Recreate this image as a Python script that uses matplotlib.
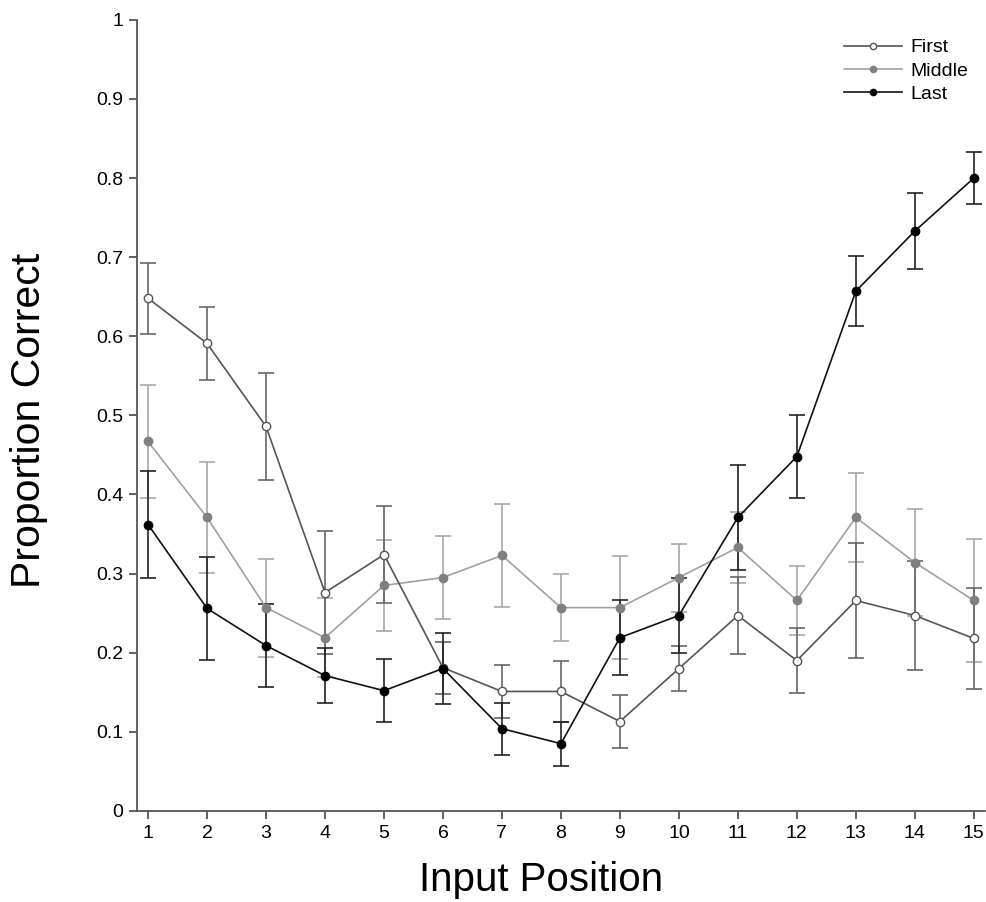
import matplotlib
matplotlib.use("Agg")
import matplotlib.pyplot as plt
from matplotlib.lines import Line2D

plt.rcParams['font.family'] = ['Liberation Sans', 'DejaVu Sans']

positions = list(range(1, 16))

first = [0.648, 0.591, 0.486, 0.276, 0.324, 0.181, 0.151, 0.151, 0.113, 0.180, 0.247, 0.190, 0.266, 0.247, 0.218]
first_err = [0.045, 0.046, 0.068, 0.078, 0.061, 0.033, 0.033, 0.038, 0.034, 0.029, 0.049, 0.041, 0.073, 0.069, 0.064]

middle = [0.467, 0.371, 0.257, 0.219, 0.285, 0.295, 0.323, 0.257, 0.257, 0.295, 0.333, 0.266, 0.371, 0.314, 0.266]
middle_err = [0.072, 0.070, 0.062, 0.050, 0.058, 0.053, 0.065, 0.042, 0.065, 0.043, 0.045, 0.044, 0.056, 0.068, 0.078]

last = [0.362, 0.256, 0.209, 0.171, 0.152, 0.180, 0.104, 0.085, 0.219, 0.247, 0.371, 0.448, 0.657, 0.733, 0.800]
last_err = [0.068, 0.065, 0.052, 0.035, 0.040, 0.045, 0.033, 0.028, 0.047, 0.048, 0.066, 0.053, 0.044, 0.048, 0.033]

fig = plt.figure(figsize=(9.86, 9.02), dpi=100)
ax = fig.add_axes([0.139, 0.101, 0.860, 0.877])

# middle first so the darker series sit on top
ax.errorbar(positions, middle, yerr=middle_err, color='#a0a0a0', ecolor='#a8a8a8',
            marker='o', markersize=6, markerfacecolor='#808080', markeredgecolor='#808080',
            lw=1.2, elinewidth=1.2, capsize=6, capthick=1.2)
ax.errorbar(positions, first, yerr=first_err, color='#555555', ecolor='#666666',
            marker='o', markersize=6, markerfacecolor='white', markeredgecolor='#555555',
            lw=1.2, elinewidth=1.2, capsize=6, capthick=1.2)
ax.errorbar(positions, last, yerr=last_err, color='#111111', ecolor='#222222',
            marker='o', markersize=6, markerfacecolor='black', markeredgecolor='black',
            lw=1.2, elinewidth=1.2, capsize=6, capthick=1.2)

ax.set_xlim(0.814, 15.19)
ax.set_ylim(0, 1)
ax.set_xticks(positions)
ax.set_yticks([0, 0.1, 0.2, 0.3, 0.4, 0.5, 0.6, 0.7, 0.8, 0.9, 1])
ax.set_yticklabels(['0', '0.1', '0.2', '0.3', '0.4', '0.5', '0.6', '0.7', '0.8', '0.9', '1'])
ax.tick_params(direction='out', length=6, width=1.3, labelsize=14, color='#555555', pad=4)

for side in ['top', 'right']:
    ax.spines[side].set_visible(False)
for side in ['left', 'bottom']:
    ax.spines[side].set_linewidth(1.3)
    ax.spines[side].set_color('#555555')

ax.set_xlabel('Input Position', fontsize=29, va='center')
ax.xaxis.set_label_coords(0.476, -0.087)
ax.set_ylabel('Proportion Correct', fontsize=29.5, va='center')
ax.yaxis.set_label_coords(-0.128, 0.494)

handles = [
    Line2D([], [], color='#555555', lw=1.2, marker='o', markersize=4.5,
           markerfacecolor='white', markeredgecolor='#555555'),
    Line2D([], [], color='#a0a0a0', lw=1.2, marker='o', markersize=4.5,
           markerfacecolor='#808080', markeredgecolor='#808080'),
    Line2D([], [], color='#111111', lw=1.2, marker='o', markersize=4.5,
           markerfacecolor='black', markeredgecolor='black'),
]
fig.legend(handles, ['First', 'Middle', 'Last'], loc='upper left',
           bbox_to_anchor=(0.856, 0.957), bbox_transform=fig.transFigure,
           frameon=False, fontsize=14, handlelength=3.0, handletextpad=0.4,
           labelspacing=0.3, borderpad=0, borderaxespad=0)

fig.savefig('out.png', dpi=100)
